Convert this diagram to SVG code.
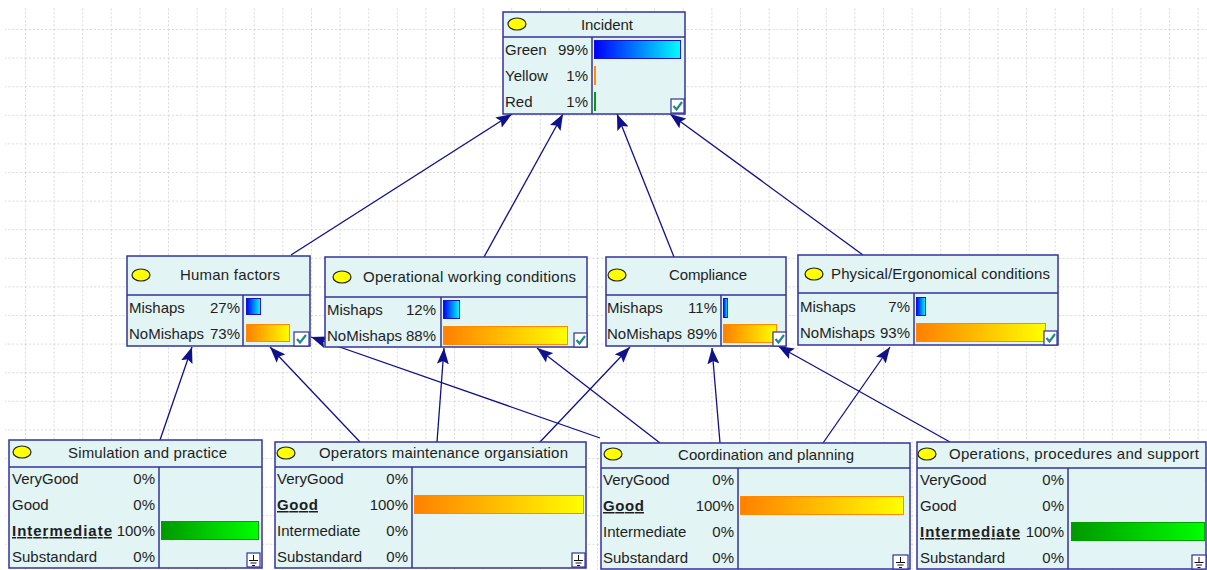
<svg xmlns="http://www.w3.org/2000/svg" width="1207" height="570" viewBox="0 0 1207 570">
<style>
.box{fill:#e2f4f4;stroke:#33339a;stroke-width:1.5}
.sep{stroke:#33339a;stroke-width:1.5;fill:none}
.t{font-family:"Liberation Sans",Arial,sans-serif;font-size:15px;fill:#1e1e1e}
.r{text-anchor:end}
.c{text-anchor:middle}
.b{font-weight:bold;text-decoration:underline}
.ell{fill:#ffff00;stroke:#222;stroke-width:1.2}
.blue{fill:url(#gBlue);stroke:#1414c8;stroke-width:1}
.orange{fill:url(#gOrange);stroke:#ff8a00;stroke-width:1}
.green{fill:url(#gGreen);stroke:#00a000;stroke-width:1}
.chk{fill:#fff;stroke:#33339a;stroke-width:1.2}
.tick{fill:none;stroke:#1f8a8a;stroke-width:2.2}
.gnd{stroke:#111;stroke-width:1;fill:none}
.edge{stroke:#10108a;stroke-width:1.3;fill:none;marker-end:url(#arr)}
</style>
<defs>
<linearGradient id="gBlue" x1="0" y1="0" x2="1" y2="0"><stop offset="0" stop-color="#0000ff"/><stop offset="1" stop-color="#00ffff"/></linearGradient>
<linearGradient id="gOrange" x1="0" y1="0" x2="1" y2="0"><stop offset="0" stop-color="#ff8000"/><stop offset="1" stop-color="#ffff00"/></linearGradient>
<linearGradient id="gGreen" x1="0" y1="0" x2="1" y2="0"><stop offset="0" stop-color="#009900"/><stop offset="1" stop-color="#00ff00"/></linearGradient>
<marker id="arr" markerUnits="userSpaceOnUse" markerWidth="16" markerHeight="12" refX="16" refY="6" orient="auto"><path d="M0,0 L16,6 L0,12 L3,6 z" fill="#10108a"/></marker>
<pattern id="grid" x="25" y="29" width="28.6" height="28.6" patternUnits="userSpaceOnUse">
<line x1="0.5" y1="0" x2="0.5" y2="28.6" stroke="#d9d9d9" stroke-width="1" stroke-dasharray="2,2"/>
<line x1="0" y1="0.5" x2="28.6" y2="0.5" stroke="#d9d9d9" stroke-width="1" stroke-dasharray="2,2"/>
</pattern>
</defs>
<rect width="1207" height="570" fill="#fff"/>
<rect x="5" y="8" width="1202" height="562" fill="url(#grid)"/>

<g id="connectors">
<line class="edge" x1="291" y1="255" x2="512" y2="114"/>
<line class="edge" x1="484" y1="257" x2="563" y2="114"/>
<line class="edge" x1="674" y1="257" x2="617" y2="114"/>
<line class="edge" x1="863" y1="255" x2="670" y2="114"/>
<line class="edge" x1="160" y1="440" x2="192" y2="347"/>
<line class="edge" x1="360" y1="442" x2="270" y2="347"/>
<line class="edge" x1="437" y1="442" x2="444" y2="348"/>
<line class="edge" x1="540" y1="442" x2="630" y2="347"/>
<line class="edge" x1="600" y1="438" x2="311" y2="337"/>
<line class="edge" x1="660" y1="443" x2="537" y2="348"/>
<line class="edge" x1="720" y1="443" x2="712" y2="348"/>
<line class="edge" x1="823" y1="443" x2="890" y2="347"/>
<line class="edge" x1="950" y1="442" x2="778" y2="346"/>
</g>

<g id="incident">
<rect class="box" x="503" y="12" width="182" height="102"/>
<line class="sep" x1="503" y1="37" x2="685" y2="37"/>
<line class="sep" x1="592" y1="37" x2="592" y2="114"/>
<ellipse class="ell" cx="517" cy="24" rx="9" ry="6"/>
<text class="t c" x="607" y="30" textLength="52">Incident</text>
<text class="t" x="505" y="55">Green</text><text class="t r" x="588" y="55">99%</text>
<text class="t" x="505" y="81">Yellow</text><text class="t r" x="588" y="81">1%</text>
<text class="t" x="505" y="107">Red</text><text class="t r" x="588" y="107">1%</text>
<rect class="blue" x="594.5" y="40.5" width="86" height="18"/>
<rect x="594" y="66" width="2" height="19" fill="#ff8c00"/>
<rect x="594" y="92" width="2" height="19" fill="#00a000"/>
<rect class="chk" x="671" y="99" width="13" height="14"/>
<path class="tick" d="M673.5,106 L676.5,109.5 L682,102"/>
</g>

<g id="human-factors">
<rect class="box" x="127" y="256" width="183" height="90"/>
<line class="sep" x1="127" y1="295" x2="310" y2="295"/>
<line class="sep" x1="243" y1="295" x2="243" y2="346"/>
<ellipse class="ell" cx="141" cy="275" rx="9" ry="6"/>
<text class="t c" x="230" y="280" textLength="100">Human factors</text>
<text class="t" x="129" y="313">Mishaps</text><text class="t r" x="240" y="313">27%</text>
<text class="t" x="129" y="339">NoMishaps</text><text class="t r" x="240" y="339">73%</text>
<rect class="blue" x="246.5" y="298.5" width="14" height="16"/>
<rect class="orange" x="246.5" y="324.5" width="43" height="17"/>
<rect class="chk" x="294" y="332" width="15" height="14"/>
<path class="tick" d="M297,339 L300,342.5 L306,335"/>
</g>

<g id="operational-working-conditions">
<rect class="box" x="325" y="257" width="262" height="90"/>
<line class="sep" x1="325" y1="297" x2="587" y2="297"/>
<line class="sep" x1="441" y1="297" x2="441" y2="347"/>
<ellipse class="ell" cx="342" cy="277" rx="9" ry="6"/>
<text class="t c" x="469.5" y="282" textLength="213">Operational working conditions</text>
<text class="t" x="327" y="315">Mishaps</text><text class="t r" x="436" y="315">12%</text>
<text class="t" x="327" y="341">NoMishaps</text><text class="t r" x="436" y="341">88%</text>
<rect class="blue" x="443.5" y="300.5" width="16" height="18"/>
<rect class="orange" x="443.5" y="326.5" width="124" height="18"/>
<rect class="chk" x="574" y="333" width="13" height="14"/>
<path class="tick" d="M576.5,340 L579.5,343.5 L585,336"/>
</g>

<g id="compliance">
<rect class="box" x="606" y="257" width="180" height="89"/>
<line class="sep" x1="606" y1="295" x2="786" y2="295"/>
<line class="sep" x1="721" y1="295" x2="721" y2="346"/>
<ellipse class="ell" cx="617" cy="275" rx="9" ry="6"/>
<text class="t c" x="708" y="280" textLength="78">Compliance</text>
<text class="t" x="607" y="313">Mishaps</text><text class="t r" x="717" y="313">11%</text>
<text class="t" x="607" y="339">NoMishaps</text><text class="t r" x="717" y="339">89%</text>
<rect class="blue" x="723.5" y="298.5" width="4" height="19"/>
<rect class="orange" x="723.5" y="324.5" width="53" height="18"/>
<rect class="chk" x="773" y="332" width="13" height="14"/>
<path class="tick" d="M775.5,339 L778.5,342.5 L784,335"/>
</g>

<g id="physical-ergonomical-conditions">
<rect class="box" x="798" y="255" width="260" height="90"/>
<line class="sep" x1="798" y1="293" x2="1058" y2="293"/>
<line class="sep" x1="914" y1="293" x2="914" y2="345"/>
<ellipse class="ell" cx="814" cy="274" rx="9" ry="6"/>
<text class="t c" x="940.5" y="279" textLength="219">Physical/Ergonomical conditions</text>
<text class="t" x="800" y="312">Mishaps</text><text class="t r" x="910" y="312">7%</text>
<text class="t" x="800" y="338">NoMishaps</text><text class="t r" x="910" y="338">93%</text>
<rect class="blue" x="916.5" y="297.5" width="9" height="18"/>
<rect class="orange" x="916.5" y="323.5" width="129" height="18"/>
<rect class="chk" x="1044" y="331" width="13" height="14"/>
<path class="tick" d="M1046.5,338 L1049.5,341.5 L1055,334"/>
</g>

<g id="simulation-and-practice">
<rect class="box" x="9" y="440" width="253" height="128"/>
<line class="sep" x1="9" y1="467" x2="262" y2="467"/>
<line class="sep" x1="159" y1="467" x2="159" y2="568"/>
<ellipse class="ell" cx="22" cy="452" rx="9" ry="6"/>
<text class="t c" x="147.5" y="458" textLength="159">Simulation and practice</text>
<text class="t" x="12" y="484">VeryGood</text><text class="t r" x="155" y="484">0%</text>
<text class="t" x="12" y="510">Good</text><text class="t r" x="155" y="510">0%</text>
<text class="t b" x="12" y="536" textLength="100">Intermediate</text><text class="t r" x="155" y="536">100%</text>
<text class="t" x="12" y="562">Substandard</text><text class="t r" x="155" y="562">0%</text>
<rect class="green" x="161.5" y="521.5" width="97" height="18"/>
<rect class="chk" x="247" y="553" width="13" height="14"/>
<path class="gnd" d="M253.5,555 V560 M249,560.5 H258 M250.5,563 H256.5 M252,565.5 H255"/>
</g>

<g id="operators-maintenance-organsiation">
<rect class="box" x="275" y="442" width="311" height="126"/>
<line class="sep" x1="275" y1="467" x2="586" y2="467"/>
<line class="sep" x1="412" y1="467" x2="412" y2="568"/>
<ellipse class="ell" cx="286" cy="453" rx="9" ry="6"/>
<text class="t c" x="443.5" y="458" textLength="249">Operators maintenance organsiation</text>
<text class="t" x="277" y="484">VeryGood</text><text class="t r" x="408" y="484">0%</text>
<text class="t b" x="277" y="510" textLength="41">Good</text><text class="t r" x="408" y="510">100%</text>
<text class="t" x="277" y="536">Intermediate</text><text class="t r" x="408" y="536">0%</text>
<text class="t" x="277" y="562">Substandard</text><text class="t r" x="408" y="562">0%</text>
<rect class="orange" x="414.5" y="495.5" width="169" height="18"/>
<rect class="chk" x="572" y="553" width="13" height="14"/>
<path class="gnd" d="M578.5,555 V560 M574,560.5 H583 M575.5,563 H581.5 M577,565.5 H580"/>
</g>

<g id="coordination-and-planning">
<rect class="box" x="601" y="443" width="309" height="126"/>
<line class="sep" x1="601" y1="468" x2="910" y2="468"/>
<line class="sep" x1="738" y1="468" x2="738" y2="569"/>
<ellipse class="ell" cx="613" cy="454" rx="9" ry="6"/>
<text class="t c" x="766" y="460" textLength="176">Coordination and planning</text>
<text class="t" x="603" y="485">VeryGood</text><text class="t r" x="734" y="485">0%</text>
<text class="t b" x="603" y="511" textLength="41">Good</text><text class="t r" x="734" y="511">100%</text>
<text class="t" x="603" y="537">Intermediate</text><text class="t r" x="734" y="537">0%</text>
<text class="t" x="603" y="563">Substandard</text><text class="t r" x="734" y="563">0%</text>
<rect class="orange" x="740.5" y="496.5" width="163" height="18"/>
<rect class="chk" x="893" y="555" width="15" height="14"/>
<path class="gnd" d="M900.5,557 V562 M896,562.5 H905 M897.5,565 H903.5 M899,567.5 H902"/>
</g>

<g id="operations-procedures-and-support">
<rect class="box" x="917" y="442" width="289" height="127"/>
<line class="sep" x1="917" y1="468" x2="1206" y2="468"/>
<line class="sep" x1="1068" y1="468" x2="1068" y2="569"/>
<ellipse class="ell" cx="927" cy="454" rx="9" ry="6"/>
<text class="t c" x="1074" y="459" textLength="250">Operations, procedures and support</text>
<text class="t" x="920" y="485">VeryGood</text><text class="t r" x="1064" y="485">0%</text>
<text class="t" x="920" y="511">Good</text><text class="t r" x="1064" y="511">0%</text>
<text class="t b" x="920" y="537" textLength="100">Intermediate</text><text class="t r" x="1064" y="537">100%</text>
<text class="t" x="920" y="563">Substandard</text><text class="t r" x="1064" y="563">0%</text>
<rect class="green" x="1071.5" y="522.5" width="133" height="18"/>
<rect class="chk" x="1192" y="555" width="14" height="14"/>
<path class="gnd" d="M1199,557 V562 M1194.5,562.5 H1203.5 M1196,565 H1202 M1197.5,567.5 H1200.5"/>
</g>
</svg>
